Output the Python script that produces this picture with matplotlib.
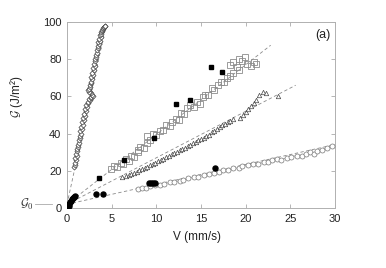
import matplotlib
matplotlib.use("Agg")
import matplotlib.pyplot as plt
import matplotlib.transforms as mtransforms
from matplotlib.lines import Line2D

plt.rcParams['font.family'] = ['Liberation Sans', 'DejaVu Sans']

# ---------------- data ----------------
diamond_V = [0.80, 0.90, 0.86, 0.98, 0.94, 1.08, 1.03, 1.16, 1.12, 1.26, 1.21, 1.35, 1.30, 1.45, 1.40,
             1.56, 1.50, 1.66, 1.60, 1.77, 1.71, 1.88, 1.82, 1.99, 1.93, 2.10, 2.04, 2.22, 2.16, 2.36,
             2.30, 2.52, 2.46, 2.70, 2.64, 2.86, 2.80, 2.72, 2.58, 2.45, 2.38, 2.44, 2.54, 2.62, 2.70,
             2.66, 2.78, 2.74, 2.88, 2.84, 2.98, 2.94, 3.08, 3.03, 3.18, 3.13, 3.28, 3.24, 3.38, 3.33,
             3.47, 3.42, 3.56, 3.52, 3.66, 3.62, 3.76, 3.71, 3.86, 3.82, 3.96, 3.92, 4.06, 4.02, 4.16,
             4.12, 4.24, 4.27]
diamond_G = [22.0, 23.2, 24.4, 25.6, 26.8, 28.0, 29.2, 30.4, 31.6, 32.8, 34.0, 35.2, 36.4, 37.6, 38.8,
             40.0, 41.2, 42.4, 43.6, 44.8, 46.0, 47.2, 48.4, 49.6, 50.8, 52.0, 53.2, 54.2, 55.2, 56.2,
             57.0, 57.8, 58.6, 59.2, 59.8, 60.4, 61.0, 61.6, 62.1, 62.6, 63.3, 64.2, 65.1, 66.0, 67.0,
             68.0, 69.2, 70.4, 71.6, 72.8, 74.0, 75.2, 76.4, 77.6, 78.8, 80.0, 81.2, 82.4, 83.6, 84.8,
             86.0, 87.0, 88.0, 89.0, 90.0, 91.0, 92.0, 93.0, 93.8, 94.6, 95.2, 95.8, 96.3, 96.8, 97.2,
             97.5, 97.8, 98.0]

square_V = [4.9, 5.3, 5.6, 6.0, 6.3, 6.6, 6.9, 7.2, 7.5, 7.9, 8.0, 8.2, 8.6, 9.0, 9.3, 9.0, 9.6, 10.0,
            10.4, 10.8, 11.1, 11.5, 11.8, 12.2, 12.5, 12.8, 13.1, 13.4, 13.8, 14.2, 14.6, 14.9, 15.2,
            15.5, 15.8, 16.2, 16.5, 16.9, 17.2, 17.6, 17.9, 18.3, 18.6, 18.2, 18.6, 19.0, 19.3, 19.6,
            19.9, 20.2, 20.6, 20.9, 21.2, 19.2]
square_G = [21.0, 22.5, 21.8, 24.0, 23.5, 26.5, 25.5, 28.0, 27.5, 30.0, 31.0, 33.0, 32.5, 35.0, 36.5,
            38.5, 40.0, 39.0, 41.5, 42.0, 44.5, 44.0, 46.5, 48.0, 47.5, 51.0, 50.5, 53.5, 55.5, 54.5,
            57.0, 56.0, 59.5, 61.0, 60.5, 64.5, 63.5, 66.0, 68.0, 67.5, 70.0, 71.0, 72.5, 77.0, 78.5,
            76.0, 80.0, 79.0, 81.0, 77.5, 76.5, 78.5, 77.5, 74.0]

triangle_V = [6.2, 6.6, 6.9, 7.2, 7.5, 7.8, 8.1, 8.4, 8.7, 9.0, 9.3, 9.6, 9.9, 10.2, 10.5, 10.8, 11.1,
              11.4, 11.7, 12.0, 12.3, 12.6, 12.9, 13.2, 13.5, 13.8, 14.1, 14.4, 14.7, 15.0, 15.3, 15.6,
              15.9, 16.2, 16.5, 16.8, 17.1, 17.4, 17.7, 18.0, 18.3, 18.6, 19.4, 19.7, 20.0, 20.3, 20.6,
              20.9, 21.2, 21.5, 21.9, 22.3, 23.6]
triangle_G = [16.5, 17.0, 17.6, 18.2, 18.9, 19.5, 20.2, 20.9, 21.5, 22.3, 23.0, 23.6, 24.4, 25.1, 25.8,
              26.6, 27.3, 28.0, 28.8, 29.5, 30.3, 31.0, 31.8, 32.5, 33.3, 34.0, 34.8, 35.5, 36.3, 37.0,
              37.8, 38.6, 39.4, 40.6, 41.4, 42.4, 43.6, 44.4, 45.4, 46.2, 47.0, 47.8, 48.6, 50.2, 51.6,
              53.0, 54.6, 56.2, 58.0, 60.5, 62.5, 62.0, 60.0]

circle_V = [8.0, 8.4, 8.8, 9.3, 9.8, 10.4, 10.9, 11.5, 12.0, 12.6, 13.0, 13.6, 14.2, 14.7, 15.3, 15.9,
            16.4, 17.0, 17.5, 18.0, 18.6, 19.2, 19.6, 20.3, 20.8, 21.4, 22.0, 22.5, 22.9, 23.5, 24.0,
            24.6, 25.1, 25.7, 26.3, 26.8, 27.2, 27.6, 28.0, 28.5, 29.1, 29.7]
circle_G = [10.2, 10.8, 11.0, 11.6, 12.3, 12.4, 13.0, 13.8, 14.2, 14.6, 15.1, 15.9, 16.6, 16.9, 17.6,
            18.3, 18.6, 19.2, 20.3, 20.6, 21.3, 21.6, 22.4, 22.9, 23.4, 23.6, 24.6, 24.9, 25.6, 26.1,
            26.0, 27.0, 27.6, 28.2, 28.1, 29.3, 30.2, 29.2, 30.6, 31.3, 32.0, 33.5]

filled_square_V = [3.6, 6.4, 9.7, 12.2, 13.8, 16.1, 17.3]
filled_square_G = [16.0, 25.6, 37.7, 55.7, 57.8, 75.8, 73.3]

filled_circle_V = [0.05, 0.15, 0.25, 0.35, 0.45, 0.55, 0.65, 0.75, 0.85, 0.2, 3.3, 4.0,
                   9.2, 9.4, 9.6, 9.8, 16.6]
filled_circle_G = [0.8, 1.5, 2.4, 3.2, 3.9, 4.6, 5.3, 5.8, 6.2, 1.0, 7.3, 7.3,
                   13.5, 13.5, 13.5, 13.5, 21.6]

G0 = 2.0
fit_slopes = [22.0, 3.75, 2.5, 1.07]
fit_Vmax = [4.4, 22.8, 25.6, 30.0]

x_ticks = [0, 5, 10, 15, 20, 25, 30]
y_ticks = [0, 20, 40, 60, 80, 100]

# ---------------- figure ----------------
fig = plt.figure(figsize=(3.86, 2.68), dpi=100)
ax = fig.add_axes([67 / 386, 1 - 208 / 268, 268 / 386, 186 / 268])

dash_col = '#8a8a8a'
for s, vm in zip(fit_slopes, fit_Vmax):
    ax.plot([0, vm], [G0, G0 + s * vm], linestyle=(0, (4, 3)), color=dash_col, lw=0.6, zorder=1)

ax.plot(circle_V, circle_G, '-', color='#999999', lw=0.5, zorder=2)
ax.plot(circle_V, circle_G, 'o', ms=3.6, mfc='white', mec='#777777', mew=0.5, zorder=3)
ax.plot(square_V, square_G, 's', ms=5.0, mfc='none', mec='#8c8c8c', mew=0.6, zorder=3)
ax.plot(triangle_V, triangle_G, '^', ms=3.2, mfc='white', mec='#444444', mew=0.5, zorder=3)
ax.plot(diamond_V, diamond_G, 'D', ms=2.6, mfc='white', mec='#3a3a3a', mew=0.5, zorder=3)
ax.plot(filled_square_V, filled_square_G, 's', ms=2.9, color='black', zorder=4)
ax.plot(filled_circle_V, filled_circle_G, 'o', ms=3.6, color='black', zorder=4)

ax.set_xlim(0, 30)
ax.set_ylim(0, 100)
ax.set_xticks(x_ticks)
ax.set_yticks(y_ticks)
ax.tick_params(direction='in', length=3, width=0.6, color='#aaaaaa', labelsize=8,
               top=True, right=True, labelcolor='#222222', pad=4)
for sp in ax.spines.values():
    sp.set_color('#b0b0b0')
    sp.set_linewidth(0.7)

ax.set_xlabel('V (mm/s)', fontsize=8.5, color='#222222')
ax.xaxis.set_label_coords(0.485, -0.125)
ax.set_ylabel(r'$\mathcal{G}$ (J/m²)', fontsize=8.5, color='#222222', math_fontfamily='cm')
ax.yaxis.set_label_coords(-0.155, 0.6)

ax.text(0.985, 0.965, '(a)', transform=ax.transAxes, ha='right', va='top', fontsize=9, color='#222222')

trans = mtransforms.blended_transform_factory(ax.transAxes, ax.transData)
ax.text(-0.15, G0, r'$\mathcal{G}_0$', transform=trans, ha='center', va='center', fontsize=9,
        math_fontfamily='cm', color='#333333')
ax.add_line(Line2D([-0.118, -0.055], [G0, G0], transform=trans, color='#aaaaaa', lw=0.6, clip_on=False))

fig.savefig('out.png', dpi=100)
